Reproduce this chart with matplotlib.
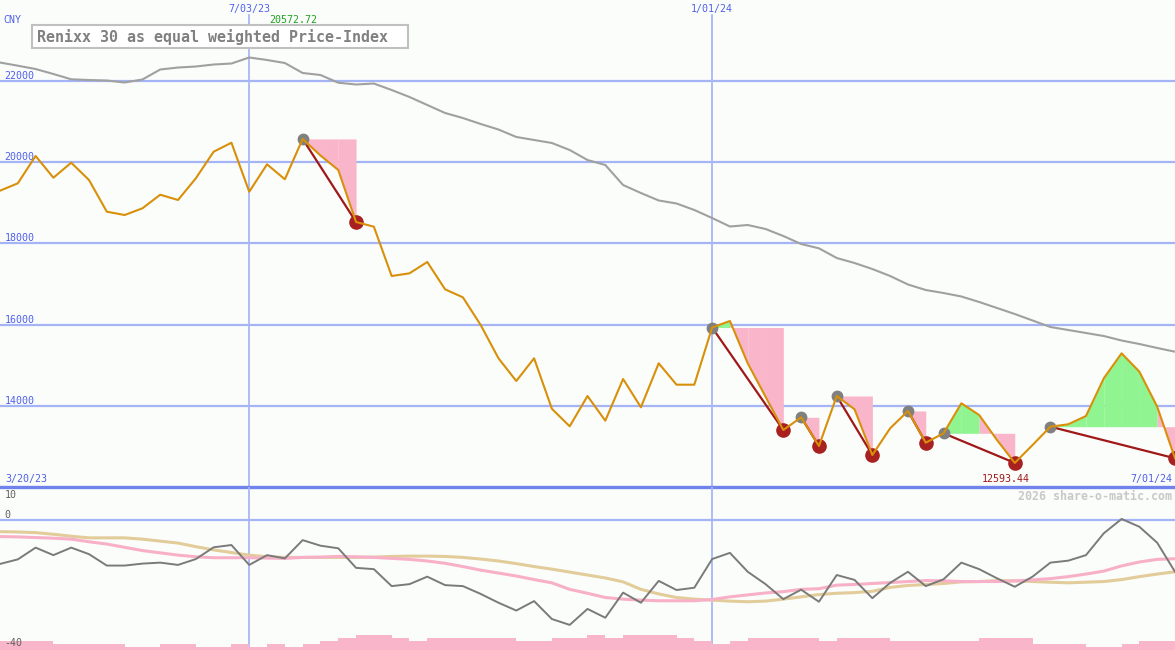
import matplotlib

matplotlib.use("Agg")

import matplotlib.pyplot as plt
import matplotlib.dates as mdates
from matplotlib.patches import Rectangle
import numpy as np
import pandas as pd

# weekly closes, Renixx 30 equal weighted (CNY)
dates = pd.date_range("2023-03-27", periods=67, freq="7D")

price = [19298, 19480, 20153, 19618, 19988, 19561, 18781, 18699, 18864, 19199,
         19069, 19603, 20258, 20480, 19273, 19948, 19579, 20572.72, 20165, 19808,
         18527, 18411, 17197, 17263, 17542, 16869, 16672, 15990, 15170, 14611,
         15170, 13926, 13495, 14241, 13633, 14660, 13963, 15047, 14520, 14520,
         15928, 16089, 15047, 14224, 13404, 13717, 13010, 14241, 13914, 12788,
         13446, 13872, 13091, 13323, 14062, 13773, 13158, 12593.44, 13034, 13485,
         13544, 13749, 14677, 15293, 14840, 13978, 12707]

ma_long = [22455, 22377, 22295, 22172, 22042, 22024, 22012, 21963, 22037, 22283,
           22332, 22357, 22406, 22431, 22579, 22517, 22443, 22197, 22148, 21958,
           21914, 21938, 21778, 21606, 21409, 21212, 21088, 20941, 20805, 20621,
           20547, 20473, 20300, 20054, 19931, 19438, 19241, 19057, 18983, 18823,
           18625, 18416, 18453, 18355, 18182, 17985, 17879, 17640, 17517, 17369,
           17197, 16988, 16852, 16778, 16692, 16557, 16409, 16261, 16101, 15941,
           15867, 15793, 15719, 15608, 15522, 15424, 15332]

# swing highs / lows (week index)
highs = [17, 40, 45, 47, 51, 53, 59]
lows = [20, 44, 46, 49, 52, 57, 66]

# lower panel indicator
osc = [-13.6, -12.2, -8.6, -10.9, -8.6, -10.6, -14.1, -14.1, -13.5, -13.2,
       -13.9, -12.1, -8.5, -7.8, -13.9, -10.9, -11.9, -6.3, -8.0, -8.8,
       -14.8, -15.2, -20.4, -19.8, -17.5, -20.1, -20.4, -22.8, -25.5, -27.9,
       -25.0, -30.5, -32.3, -27.4, -30.1, -22.4, -25.5, -18.8, -21.6, -20.9,
       -12.1, -10.2, -16.0, -19.8, -24.4, -21.5, -25.2, -17.0, -18.5, -24.1,
       -19.4, -16.0, -20.4, -18.3, -13.2, -15.2, -18.0, -20.6, -17.5, -13.2,
       -12.6, -10.9, -4.2, 0.2, -2.2, -7.1, -16.0]

osc_fast = [-5.2, -5.3, -5.5, -5.7, -6.0, -6.8, -7.5, -8.5, -9.5, -10.2,
            -10.9, -11.4, -11.7, -11.7, -11.7, -11.8, -11.9, -11.6, -11.5, -11.3,
            -11.4, -11.6, -11.9, -12.2, -12.7, -13.4, -14.4, -15.5, -16.4, -17.3,
            -18.4, -19.4, -21.4, -22.6, -23.9, -24.4, -24.7, -24.9, -24.9, -24.9,
            -24.5, -23.7, -23.1, -22.5, -22.1, -21.4, -21.2, -20.1, -19.9, -19.6,
            -19.3, -19.0, -18.7, -18.8, -19.0, -19.0, -19.0, -18.8, -18.5, -18.1,
            -17.5, -16.7, -15.8, -14.2, -13.0, -12.2, -12.0]

osc_slow = [-3.7, -3.8, -4.0, -4.5, -5.1, -5.6, -5.6, -5.6, -6.0, -6.6,
            -7.2, -8.3, -9.3, -10.1, -10.9, -11.4, -11.6, -11.6, -11.6, -11.6,
            -11.6, -11.5, -11.3, -11.2, -11.2, -11.3, -11.6, -12.1, -12.7, -13.5,
            -14.4, -15.2, -16.1, -17.0, -17.9, -19.1, -21.4, -22.8, -23.9, -24.4,
            -24.7, -25.0, -25.2, -25.0, -24.4, -23.7, -23.0, -22.6, -22.4, -22.0,
            -20.8, -20.2, -19.9, -19.6, -19.1, -19.0, -18.7, -18.8, -19.0, -19.2,
            -19.4, -19.2, -19.0, -18.4, -17.5, -16.7, -16.0]

bar_top = [-37.2, -37.2, -37.2, -38.2, -38.2, -38.2, -38.2, -39.2, -39.2, -38.2,
           -38.2, -39.2, -39.2, -38.2, -39.2, -38.2, -39.2, -38.2, -37.2, -36.4,
           -35.4, -35.4, -36.2, -37.2, -36.2, -36.2, -36.2, -36.2, -36.2, -37.2,
           -37.2, -36.2, -36.2, -35.4, -36.2, -35.4, -35.4, -35.4, -36.2, -37.2,
           -38.2, -37.2, -36.2, -36.2, -36.2, -36.2, -37.2, -36.2, -36.2, -36.2,
           -37.2, -37.2, -37.2, -37.2, -37.2, -36.2, -36.2, -36.2, -38.2, -38.2,
           -38.2, -39.0, -39.0, -38.2, -37.2, -37.2]

price_ticks = [14000, 16000, 18000, 20000, 22000]
date_marks = [14, 40]  # 7/03/23, 1/01/24

# colours
BG = "#fbfdfb"
GRID = "#a4b4f4"
BLUE_TXT = "#5060e8"
ORANGE = "#d8900a"
PINK = "#f9b5c9"
GREEN = "#90f490"
DARKRED = "#a01818"
MONO = "DejaVu Sans Mono"

W, H = 1175, 650
fig = plt.figure(figsize=(W / 100, H / 100), dpi=100, facecolor=BG)
ax = fig.add_axes([0, 163 / H, 1, 487 / H])
ax2 = fig.add_axes([0, 0, 1, 163 / H])

x = mdates.date2num(dates)
p = np.array(price, dtype=float)

for a in (ax, ax2):
    a.set_xlim(x[0], x[-1])
    a.axis("off")

ax.set_ylim(12000, 23995)
ax2.set_ylim(-40, 10)

# ---- main panel
for v in price_ticks:
    ax.axhline(v, color=GRID, lw=1.6, zorder=0)
    ax.annotate(str(v), xy=(0.004, v), xycoords=("axes fraction", "data"),
                xytext=(0, 1.5), textcoords="offset points", va="baseline",
                fontsize=7.2, color=BLUE_TXT, family=MONO)
ax.axhline(12000, color="#7082ec", lw=2.4, clip_on=False, zorder=6)

for i in date_marks:
    ax.axvline(x[i], ymax=0.969, color="#a8b8f8", lw=1.3, zorder=0)
    ax2.axvline(x[i], color="#a8b8f8", lw=1.3, zorder=0)
    ax.text(x[i], 0.9815, dates[i].strftime("%-m/%d/%y"), transform=ax.get_xaxis_transform(),
            ha="center", va="center", fontsize=7.2, color=BLUE_TXT, family=MONO)

ax.plot(x, ma_long, color="#a0a0a0", lw=1.5, zorder=2)

# swing fills, green above the swing high level, pink below
for h, l in zip(highs, lows):
    level = p[h]
    for j in range(h, l):
        col = GREEN if p[j + 1] > level else PINK
        ax.fill_between(x[j:j + 2], p[j:j + 2], level, color=col, lw=0, zorder=1)
    ax.plot([x[h], x[l]], [p[h], p[l]], color=DARKRED, lw=1.6, zorder=3)

ax.plot(x[highs], p[highs], "o", color="#808080", ms=7.5, zorder=4)
ax.plot(x[lows], p[lows], "o", color="#a82020", ms=9.5, zorder=4)
ax.plot(x, p, color=ORANGE, lw=1.5, zorder=5)

top_i = int(np.argmax(p))
low_i = int(np.argmin(p))
ax.text((x[top_i - 1] + x[top_i]) / 2, 0.959, f"{p[top_i]:.2f}",
        transform=ax.get_xaxis_transform(), ha="center", va="center",
        fontsize=7.2, color="#20a020", family=MONO)
ax.text((x[low_i - 1] + x[low_i]) / 2, 0.0164, f"{p[low_i]:.2f}",
        transform=ax.get_xaxis_transform(), ha="center", va="center",
        fontsize=7.2, color=DARKRED, family=MONO)
ax.text(5 / W, 0.0164, "3/20/23", transform=ax.transAxes, ha="left", va="center",
        fontsize=7.2, color=BLUE_TXT, family=MONO)
ax.text(1172 / W, 0.0164, dates[-1].strftime("%-m/%d/%y"), transform=ax.transAxes,
        ha="right", va="center", fontsize=7.2, color=BLUE_TXT, family=MONO)

fig.text(3 / W, 1 - 20 / H, "CNY", ha="left", va="center", fontsize=7.2,
         color=BLUE_TXT, family=MONO)
fig.patches.append(Rectangle((32 / W, 1 - 48 / H), 376 / W, 23 / H, transform=fig.transFigure,
                             facecolor="white", edgecolor="#c0c0c0", lw=1.5, zorder=10))
fig.text(37 / W, 1 - 37 / H, "Renixx 30 as equal weighted Price-Index", ha="left",
         va="center", fontsize=10.8, color="#808080", weight="bold", family=MONO, zorder=11)

# ---- lower panel
ax2.axhline(0, color=GRID, lw=1.6, zorder=0)
ax2.bar(x[:-1], np.array(bar_top) + 40, width=7, bottom=-40, align="edge",
        color=PINK, lw=0, zorder=1)
ax2.plot(x, osc_slow, color="#e2cc9a", lw=2.2, zorder=2)
ax2.plot(x, osc_fast, color="#f8b0c8", lw=2.2, zorder=2)
ax2.plot(x, osc, color="#7a7a7a", lw=1.4, zorder=3)

for v, va, dy in [(10, "top", -2.5), (0, "baseline", 1.2), (-40, "bottom", 1.5)]:
    ax2.annotate(str(v), xy=(0.004, v), xycoords=("axes fraction", "data"),
                 xytext=(0, dy), textcoords="offset points", va=va,
                 fontsize=7.2, color="#606060", family=MONO)

fig.text(1172 / W, 1 - 496 / H, "2026 share-o-matic.com", ha="right", va="center",
         fontsize=8.4, color="#c8c8c8", weight="bold", family=MONO)

fig.savefig("out.png", dpi=100, facecolor=BG)
